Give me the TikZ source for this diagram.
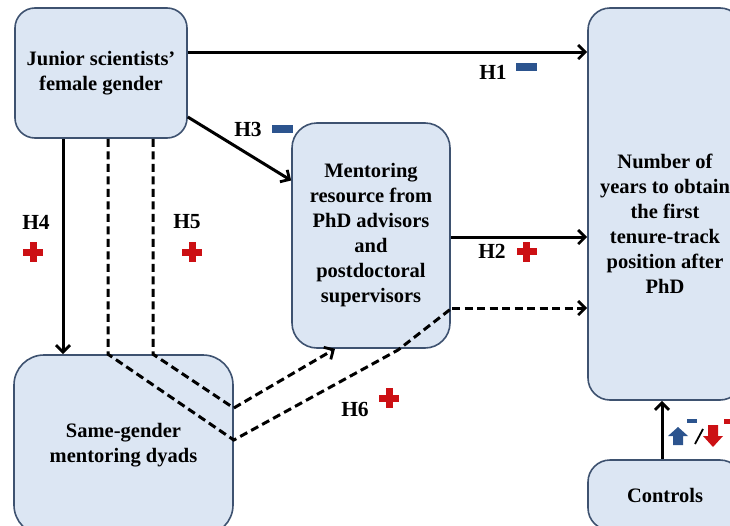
\documentclass[tikz,border=0pt]{standalone}
\usepackage{fontspec}
\setmainfont{Liberation Serif}
\usetikzlibrary{arrows.meta}
\definecolor{boxfill}{RGB}{220,230,243}
\definecolor{boxline}{RGB}{62,82,112}
\definecolor{signblue}{RGB}{44,84,142}
\definecolor{signred}{RGB}{204,16,20}
\tikzset{
  box/.style={draw=boxline, line width=1.6pt, fill=boxfill, rounded corners=#1,
    inner sep=0pt, align=center, font=\fontsize{20.5}{25}\selectfont\bfseries},
  box/.default=22pt,
  btext/.style={inner sep=0pt, align=center, font=\fontsize{20.5}{25}\selectfont\bfseries},
  hlabel/.style={inner sep=0pt, font=\fontsize{21.5}{25}\selectfont\bfseries},
  arr/.style={line width=3pt, -{Straight Barb[length=7pt,width=14pt,line width=2.8pt]}},
  darr/.style={arr, dash pattern=on 8pt off 4.5pt},
  dline/.style={line width=3pt, dash pattern=on 8pt off 4.5pt},
  redplus/.pic={
    \fill[signred] (-10,-3.5) rectangle (10,3.5);
    \fill[signred] (-3.5,-10) rectangle (3.5,10);
  },
  blueminus/.pic={
    \fill[signblue] (-10.5,-3.8) rectangle (10.5,3.8);
  }
}
\begin{document}
\begin{tikzpicture}[x=1pt,y=-1pt]
  \useasboundingbox (0,0) rectangle (730,525);
  \clip (0,0) rectangle (730,525);

  % boxes
  \node[box=20pt, minimum width=172pt, minimum height=130pt] (A) at (101,73)
    {Junior scientists'\\female gender};
  \node[box=25pt, minimum width=158pt, minimum height=225pt] (B) at (371,235.5)
    {Mentoring\\resource from\\PhD advisors\\and\\postdoctoral\\supervisors};
  \node[box=22pt, minimum width=154pt, minimum height=392pt] (C) at (665,204) {};
  \node[btext] (Ctext) at (665,224)
    {Number of\\years to obtain\\the first\\tenure-track\\position after\\PhD};
  \node[box=30pt, minimum width=219pt, minimum height=180pt] (D) at (123.5,445)
    {Same-gender\\mentoring dyads};
  \node[box=22pt, minimum width=154pt, minimum height=70pt] (E) at (665,495)
    {Controls};

  % direct paths
  \draw[arr] ([yshift=21pt]A.east) -- ([yshift=21pt]A.east -| C.west);
  \draw[arr] ([yshift=-44pt]A.east) -- ([yshift=55pt]B.west);
  \draw[arr] ([yshift=-1.5pt]B.east) -- ([yshift=-1.5pt]B.east -| C.west);
  \draw[arr] ([xshift=-38pt]A.south) -- ([xshift=-38pt]A.south |- D.north);
  \draw[arr] ([xshift=-3pt]E.north) -- ([xshift=-3pt]E.north |- C.south);

  % moderated paths through the dyads
  \coordinate (k1) at (398,350);
  \coordinate (k2) at (452,308);
  \draw[dline] ([xshift=7pt]A.south) -- ([xshift=7pt]A.south |- D.north)
    -- ([yshift=5pt]D.east) -- (k1) -- (k2);
  \draw[darr] (k2) -- (k2 -| C.west);
  \draw[darr] ([xshift=52pt]A.south) -- ([xshift=52pt]A.south |- D.north)
    -- ([yshift=37pt]D.east) -- ([xshift=-36pt]B.south);

  % hypothesis labels
  \node[hlabel] (h1) at (493,72) {H1};
  \pic at (526.5,67) {blueminus};
  \node[hlabel] (h2) at (492,251.5) {H2};
  \pic at (526.5,251.5) {redplus};
  \node[hlabel] (h3) at (248,129) {H3};
  \pic at (282,129) {blueminus};
  \node[hlabel] (h4) at (36,222) {H4};
  \pic at (33,252) {redplus};
  \node[hlabel] (h5) at (187,222) {H5};
  \pic at (192,252) {redplus};
  \node[hlabel] (h6) at (355,409) {H6};
  \pic at (389,398) {redplus};

  % sign of the control effects
  \fill[signblue] (678,427) -- (688,436) -- (683,436) -- (683,445) -- (673,445)
    -- (673,436) -- (668,436) -- cycle;
  \fill[signblue] (687,419) rectangle (697,423);
  \draw[line width=1.8pt] (695,444) -- (703,429);
  \fill[signred] (713,447) -- (723,436) -- (718,436) -- (718,425) -- (708,425)
    -- (708,436) -- (703,436) -- cycle;
  \fill[signred] (724,419) rectangle (740,424);
  \fill[signred] (729.5,413) rectangle (734.5,430);
\end{tikzpicture}
\end{document}
